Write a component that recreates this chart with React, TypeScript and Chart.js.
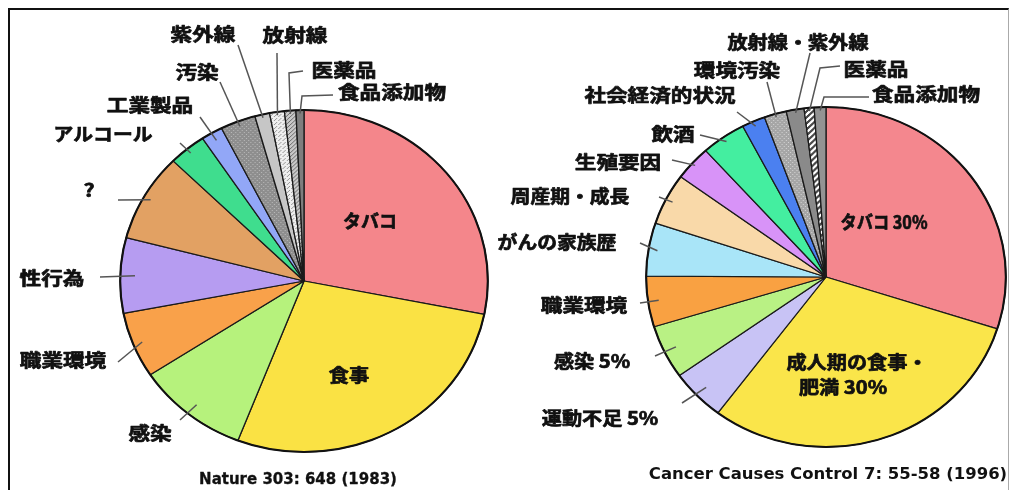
import React, { useEffect, useRef } from "react";
import { Chart, registerables } from "chart.js";

Chart.register(...registerables);

const W = 1014;
const H = 490;

// ---------- data: left pie ----------
const leftCategories = ["タバコ", "食事", "感染", "職業環境", "性行為", "?", "アルコール", "工業製品", "汚染", "紫外線", "放射線", "医薬品", "食品添加物"];
const leftValues = [28.1, 27.7, 9.9, 6.2, 7.1, 8.3, 3.3, 1.9, 3.1, 1.3, 1.3, 1.0, 0.7];
const leftCaption = "Nature 303: 648 (1983)";

// ---------- data: right pie ----------
const rightCategories = ["タバコ 30%", "成人期の食事・肥満 30%", "運動不足 5%", "感染 5%", "職業環境", "がんの家族歴", "周産期・成長", "生殖要因", "飲酒", "社会経済的状況", "環境汚染", "放射線・紫外線", "医薬品", "食品添加物"];
const rightValues = [29.9, 30.3, 4.9, 5.1, 4.8, 5.05, 4.9, 3.3, 4.0, 2.1, 2.0, 1.6, 0.9, 1.05];
const rightCaption = "Cancer Causes Control 7: 55-58 (1996)";

// ---------- styles ----------
type Fill = string | { base: string; ink: string; kind: "dots" | "fine" | "hatch" | "stripes" };

const leftFills: Fill[] = [
  "#F4868B", "#FAE244", "#B6F27C", "#F9A14A", "#B69CF1", "#E2A163", "#3FDD8E", "#92A7F7",
  { base: "#8E8E8E", ink: "#B8B8B8", kind: "dots" },
  "#C6C6C6",
  { base: "#EFEFEF", ink: "#9A9A9A", kind: "fine" },
  { base: "#C8C8C8", ink: "#6E6E6E", kind: "hatch" },
  "#7E7E7E",
];

const rightFills: Fill[] = [
  "#F4878E", "#FAE54A", "#C8C3F5", "#B9F184", "#F9A142", "#A9E5F8", "#F9D9A9", "#D893F8", "#44EEA0", "#4B80F0",
  { base: "#A6A6A6", ink: "#D2D2D2", kind: "dots" },
  "#8A8A8A",
  { base: "#FFFFFF", ink: "#4A4A4A", kind: "stripes" },
  "#939393",
];

type Spec = { x: number; y: number; r?: number; path?: [number, number][]; split?: number; x2?: number; y2?: number; sx?: number };

const leftSpecs: Spec[] = [
  { x: 370, y: 221, sx: 1.0 },
  { x: 349, y: 375, sx: 1.12 },
  { x: 150, y: 433, r: 0.93, path: [[180, 420]] },
  { x: 63, y: 360, r: 0.95, path: [[118, 362]] },
  { x: 52, y: 278, r: 0.92, path: [[100, 277]] },
  { x: 89, y: 190, r: 0.96, path: [[118, 200]] },
  { x: 103, y: 134, r: 0.97, path: [[180, 143]], sx: 1.1 },
  { x: 150, y: 105, r: 0.95, path: [[200, 117]] },
  { x: 197, y: 72, r: 0.97, path: [[220, 82]] },
  { x: 203, y: 34, r: 0.98, path: [[238, 45]] },
  { x: 295, y: 35, r: 0.98, path: [[277, 53]] },
  { x: 344, y: 70, r: 0.98, path: [[289, 73], [303, 71]] },
  { x: 392, y: 92, r: 0.98, path: [[302, 96], [333, 95]] },
];

const rightSpecs: Spec[] = [
  { x: 884, y: 222, sx: 0.9 },
  { x: 857, y: 362, split: 7, x2: 843, y2: 387, sx: 1.12 },
  { x: 600, y: 418, r: 0.93, path: [[682, 403]], sx: 1.12 },
  { x: 592, y: 361, r: 0.93, path: [[655, 356]], sx: 1.12 },
  { x: 584, y: 305, r: 0.94, path: [[640, 303]] },
  { x: 557, y: 242, r: 0.95, path: [[640, 243]], sx: 1.1 },
  { x: 570, y: 196, r: 0.96, path: [[659, 197]], sx: 1.1 },
  { x: 618, y: 162, r: 0.98, path: [[672, 160]] },
  { x: 673, y: 134, r: 0.97, path: [[700, 135]] },
  { x: 660, y: 95, r: 0.97, path: [[737, 112]] },
  { x: 737, y: 70, r: 0.98, path: [[767, 82]] },
  { x: 798, y: 42, r: 0.98, path: [[810, 53]], sx: 1.12 },
  { x: 876, y: 69, r: 0.98, path: [[820, 68], [840, 66]] },
  { x: 926, y: 94, r: 0.98, path: [[824, 97], [869, 97]] },
];

const LABEL_FONT = 'bold 18px "Noto Sans CJK JP", sans-serif';
const LABEL_SCALE = 1.2;

function makeFill(f: Fill): string | CanvasPattern {
  if (typeof f === "string") return f;
  const n = f.kind === "stripes" ? 6 : 4;
  const c = document.createElement("canvas");
  c.width = n;
  c.height = n;
  const g = c.getContext("2d")!;
  g.fillStyle = f.base;
  g.fillRect(0, 0, n, n);
  g.fillStyle = f.ink;
  if (f.kind === "dots") {
    g.fillRect(0, 0, 1, 1);
    g.fillRect(2, 2, 1, 1);
  } else if (f.kind === "fine") {
    g.fillRect(0, 0, 1, 1);
    g.fillRect(2, 2, 1, 1);
    g.fillRect(1, 3, 1, 1);
  } else if (f.kind === "hatch") {
    for (let i = 0; i < n; i++) g.fillRect(i, n - 1 - i, 1, 1);
  } else {
    for (let i = 0; i < n; i++) {
      g.fillRect(i, n - 1 - i, 1, 1);
      g.fillRect((i + 1) % n, n - 1 - i, 1, 1);
      g.fillRect((i + 2) % n, n - 1 - i, 1, 1);
    }
  }
  return g.createPattern(c, "repeat")!;
}

function drawText(ctx: CanvasRenderingContext2D, text: string, x: number, y: number, font: string, sx: number, heavy: number) {
  ctx.save();
  ctx.translate(x, y);
  ctx.scale(sx, 1);
  ctx.font = font;
  ctx.textAlign = "center";
  ctx.textBaseline = "middle";
  ctx.fillStyle = "#111";
  ctx.fillText(text, 0, 0);
  if (heavy > 0) {
    ctx.strokeStyle = "#111";
    ctx.lineWidth = heavy;
    ctx.lineJoin = "round";
    ctx.strokeText(text, 0, 0);
  }
  ctx.restore();
}

type PieProps = {
  categories: string[];
  values: number[];
  fills: Fill[];
  specs: Spec[];
  cx: number;
  cy: number;
  radius: number;
  stretch: number;
  caption: string;
  capX: number;
  capY: number;
  capFont: string;
  capScale: number;
  capHeavy: number;
};

function PieCanvas(p: PieProps) {
  const ref = useRef<HTMLCanvasElement>(null);
  useEffect(() => {
    const canvas = ref.current!;
    const halfW = Math.min(p.cx, W - p.cx);
    const halfH = Math.min(p.cy, H - p.cy);

    const stretchPlugin = {
      id: "stretch",
      beforeDatasetsDraw(chart: any) {
        const a = chart.getDatasetMeta(0).data[0];
        const ctx = chart.ctx;
        ctx.save();
        ctx.translate(a.x, a.y);
        ctx.scale(p.stretch, 1);
        ctx.translate(-a.x, -a.y);
      },
      afterDatasetsDraw(chart: any) {
        const a = chart.getDatasetMeta(0).data[0];
        const ctx = chart.ctx;
        ctx.beginPath();
        ctx.arc(a.x, a.y, a.outerRadius, 0, Math.PI * 2);
        ctx.lineWidth = 2;
        ctx.strokeStyle = "#111";
        ctx.stroke();
        ctx.restore();
      },
    };

    const labelPlugin = {
      id: "pieLabels",
      afterDraw(chart: any) {
        const ctx: CanvasRenderingContext2D = chart.ctx;
        const arcs = chart.getDatasetMeta(0).data;
        const labels = chart.data.labels as string[];
        arcs.forEach((a: any, i: number) => {
          const s = p.specs[i];
          if (!s) return;
          const text = labels[i];
          const sx = s.sx ?? LABEL_SCALE;
          if (s.path) {
            const mid = (a.startAngle + a.endAngle) / 2;
            const rr = a.outerRadius * (s.r ?? 0.97);
            ctx.beginPath();
            ctx.moveTo(a.x + p.stretch * rr * Math.cos(mid), a.y + rr * Math.sin(mid));
            s.path.forEach(([x, y]) => ctx.lineTo(x, y));
            ctx.strokeStyle = "#555";
            ctx.lineWidth = 1.5;
            ctx.stroke();
          }
          if (s.split) {
            drawText(ctx, text.slice(0, s.split), s.x, s.y, LABEL_FONT, sx, 0.7);
            drawText(ctx, text.slice(s.split), s.x2 ?? s.x, s.y2 ?? s.y + 25, LABEL_FONT, sx, 0.7);
          } else {
            drawText(ctx, text, s.x, s.y, LABEL_FONT, sx, 0.7);
          }
        });
        drawText(ctx, p.caption, p.capX, p.capY, p.capFont, p.capScale, p.capHeavy);
      },
    };

    const chart = new Chart(canvas, {
      type: "pie",
      data: {
        labels: p.categories,
        datasets: [
          {
            data: p.values,
            backgroundColor: p.fills.map(makeFill) as any,
            borderColor: "#1a1a1a",
            borderWidth: 1.2,
            clip: false as any,
          },
        ],
      },
      options: {
        responsive: false,
        animation: false,
        events: [],
        radius: p.radius,
        layout: {
          padding: {
            left: p.cx - halfW,
            right: W - p.cx - halfW,
            top: p.cy - halfH,
            bottom: H - p.cy - halfH,
          },
        },
        plugins: {
          legend: { display: false },
          tooltip: { enabled: false },
          title: { display: false },
        },
      } as any,
      plugins: [stretchPlugin, labelPlugin],
    });
    return () => chart.destroy();
  }, []);
  return <canvas ref={ref} width={W} height={H} style={{ position: "absolute", left: 0, top: 0 }} />;
}

export default function App() {
  return (
    <div style={{ position: "absolute", left: 0, top: 0, width: W, height: H, overflow: "hidden", background: "#fff" }}>
      <div
        style={{
          position: "absolute",
          left: 8,
          top: 8,
          width: 998,
          height: H,
          borderTop: "2px solid #111",
          borderLeft: "2px solid #111",
          borderRight: "1px solid #aaa",
        }}
      />
      <PieCanvas
        categories={leftCategories}
        values={leftValues}
        fills={leftFills}
        specs={leftSpecs}
        cx={304}
        cy={281}
        radius={171}
        stretch={1.075}
        caption={leftCaption}
        capX={298}
        capY={480}
        capFont='bold 15px "DejaVu Sans", sans-serif'
        capScale={1.0}
        capHeavy={0.3}
      />
      <PieCanvas
        categories={rightCategories}
        values={rightValues}
        fills={rightFills}
        specs={rightSpecs}
        cx={826}
        cy={277}
        radius={170}
        stretch={1.058}
        caption={rightCaption}
        capX={828}
        capY={475}
        capFont='bold 16px "DejaVu Sans", sans-serif'
        capScale={1.03}
        capHeavy={0}
      />
    </div>
  );
}
